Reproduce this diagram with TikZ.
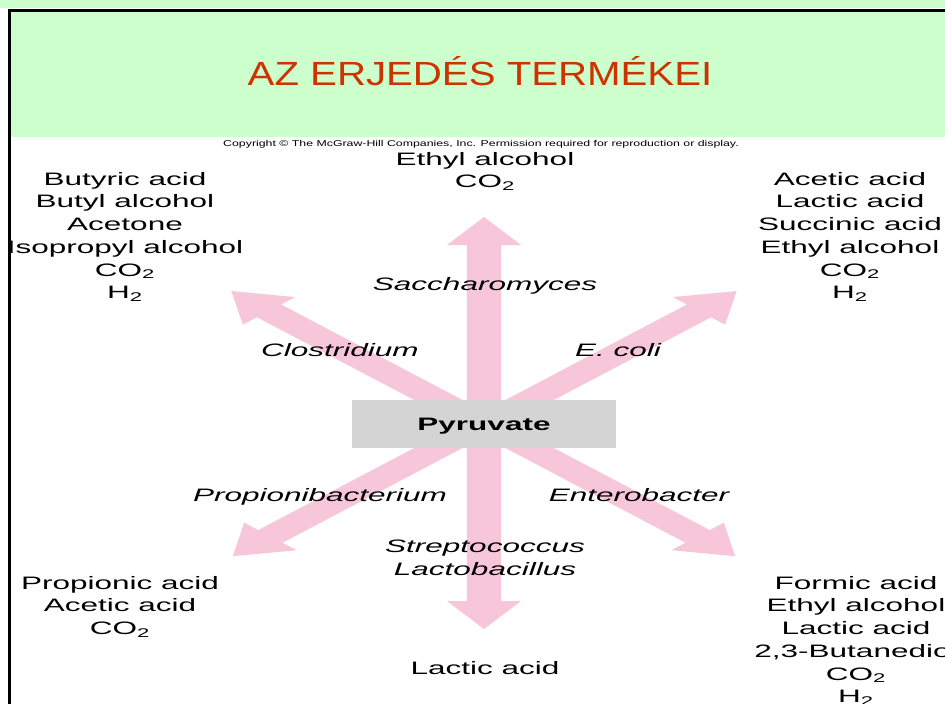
\documentclass[tikz,border=0pt]{standalone}
\usepackage{fontspec}
\setmainfont{Liberation Sans}
\usepackage{tikz}
\definecolor{title_red}{RGB}{204,51,0}
\definecolor{band_green}{RGB}{204,255,204}
\definecolor{arrow_pink}{RGB}{247,198,216}
\definecolor{box_gray}{RGB}{212,212,212}
\tikzstyle{product} = [align=center, inner sep=0pt, anchor=north, xscale=1.75, font=\fontsize{18}{22.7}\selectfont]
\tikzstyle{microbe} = [align=center, inner sep=0pt, anchor=north, xscale=1.75, font=\fontsize{18}{22.7}\selectfont\itshape]
\tikzstyle{fat_arrow} = [fill=arrow_pink]

\begin{document}
\begin{tikzpicture}[x=1pt, y=-1pt]
        \useasboundingbox (0,0) rectangle (945,704);
        \fill[band_green] (0,0) rectangle (945,8);
        \fill[band_green] (10,11) rectangle (945,137);
        \draw[line width=3pt] (9,704) -- (9,10) -- (945,10);

        \node (title) [text=title_red, anchor=base, xscale=1.2, font=\fontsize{33.5}{40}\selectfont] at (480,85) {AZ ERJEDÉS TERMÉKEI};
        \node (copyright) [anchor=base, xscale=1.45, font=\fontsize{8.5}{9}\selectfont] at (481,146) {Copyright © The McGraw-Hill Companies, Inc. Permission required for reproduction or display.};

        \begin{scope}[shift={(484,424)}, xscale=1.9]
            \foreach \ang/\len in {90/207, 270/205, 45/188, 135/188, 225/187, 315/187}
                \fill[fat_arrow, rotate=\ang] (0,-9) -- (\len-28,-9) -- (\len-28,-19.5) -- (\len,0) -- (\len-28,19.5) -- (\len-28,9) -- (0,9) -- cycle;
        \end{scope}

        \node (pyruvate) [fill=box_gray, xscale=1.75, minimum width=150.3pt, minimum height=48pt, text depth=0pt, font=\fontsize{18}{20}\selectfont\bfseries] at (484,424) {Pyruvate};

        \node (top_products) [product] at (485,152) {Ethyl alcohol\\CO\textsubscript{2}};
        \node (clostridium_products) [product] at (125,172) {Butyric acid\\Butyl alcohol\\Acetone\\Isopropyl alcohol\\CO\textsubscript{2}\\H\textsubscript{2}};
        \node (ecoli_products) [product] at (850,172) {Acetic acid\\Lactic acid\\Succinic acid\\Ethyl alcohol\\CO\textsubscript{2}\\H\textsubscript{2}};
        \node (propioni_products) [product] at (120,576) {Propionic acid\\Acetic acid\\CO\textsubscript{2}};
        \node (entero_products) [product] at (856,576) {Formic acid\\Ethyl alcohol\\Lactic acid\\2,3-Butanediol\\CO\textsubscript{2}\\H\textsubscript{2}};
        \node (bottom_products) [product] at (485,661) {Lactic acid};

        \node (saccharomyces) [microbe] at (485,277) {Saccharomyces};
        \node (clostridium) [microbe] at (340,343) {Clostridium};
        \node (ecoli) [microbe] at (618,343) {E. coli};
        \node (propioni) [microbe] at (320,488) {Propionibacterium};
        \node (entero) [microbe] at (639,488) {Enterobacter};
        \node (strepto) [microbe] at (485,540) {Streptococcus\\Lactobacillus};
    \end{tikzpicture}
\end{document}
